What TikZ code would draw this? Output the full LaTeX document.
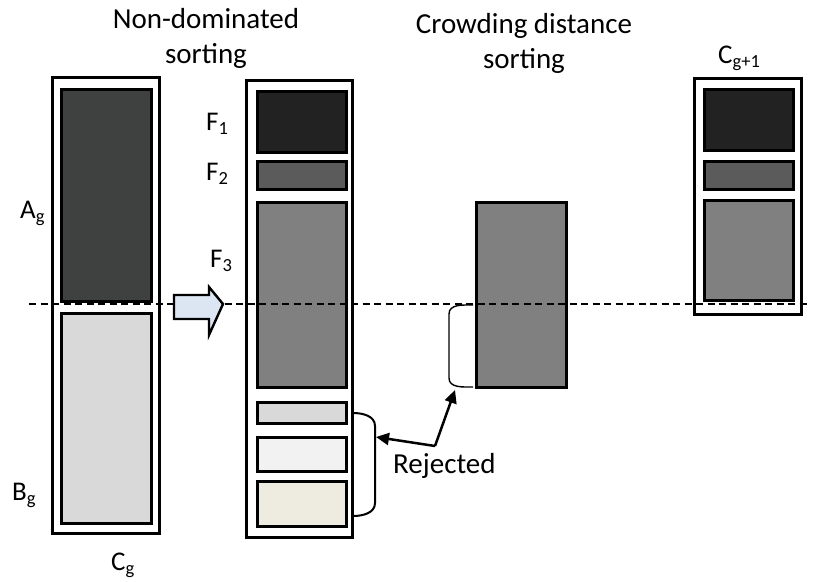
\documentclass[tikz,border=0pt]{standalone}
\usepackage{fontspec}
\setmainfont{Carlito}
\usetikzlibrary{arrows.meta}
\newcommand\lowsub[1]{\raisebox{-4pt}{\fontsize{18.5}{18.5}\selectfont #1}}
\begin{document}
\begin{tikzpicture}[x=1pt,y=-1pt,
  outerbox/.style={draw=black,line width=3pt,fill=white,inner sep=0pt},
  blockbox/.style={draw=black,line width=3pt,inner sep=0pt,minimum width=90pt},
  label/.style={inner sep=0pt,anchor=base west,font=\fontsize{27}{32}\selectfont},
  title/.style={inner sep=0pt,align=center,font=\fontsize{29}{35}\selectfont},
  pointer/.style={line width=2.5pt,-{Triangle[length=13pt,width=12pt]}},
  brace/.style={line width=2pt}]
\useasboundingbox (0,0) rectangle (813,581);

% current population C_g = A_g + B_g
\node[outerbox,minimum width=107pt,minimum height=456pt] (cg) at (105.5,305) {};
\node[blockbox,fill={rgb,255:red,63;green,65;blue,64},minimum height=212pt] (ag) at (106,195) {};
\node[blockbox,fill={rgb,255:red,217;green,217;blue,217},minimum height=210pt] (bg) at (106,418) {};

% sorted fronts
\node[outerbox,minimum width=106pt,minimum height=457pt] (sorted) at (299,308.5) {};
\node[blockbox,fill={rgb,255:red,34;green,34;blue,34},minimum width=89pt,minimum height=61pt] (f1) at (301.5,121.5) {};
\node[blockbox,fill={rgb,255:red,91;green,91;blue,91},minimum width=89pt,minimum height=28pt] (f2) at (301.5,175) {};
\node[blockbox,fill={rgb,255:red,128;green,128;blue,128},minimum width=89pt,minimum height=185pt] (f3) at (301.5,294.5) {};
\node[blockbox,fill={rgb,255:red,217;green,217;blue,217},minimum width=89pt,minimum height=21pt] (r1) at (301.5,412.5) {};
\node[blockbox,fill={rgb,255:red,242;green,242;blue,242},minimum width=89pt,minimum height=34pt] (r2) at (301.5,454) {};
\node[blockbox,fill={rgb,255:red,238;green,236;blue,225},minimum width=89pt,minimum height=45pt] (r3) at (301.5,503.5) {};

% front split by crowding distance
\node[blockbox,fill={rgb,255:red,128;green,128;blue,128},minimum height=185pt] (cd) at (521,294.5) {};

% next population C_{g+1}
\node[outerbox,minimum width=107pt,minimum height=236pt] (cnext) at (747.5,196) {};
\node[blockbox,fill={rgb,255:red,34;green,34;blue,34},minimum width=89pt,minimum height=61pt] (n1) at (748.5,119.5) {};
\node[blockbox,fill={rgb,255:red,91;green,91;blue,91},minimum width=89pt,minimum height=28pt] (n2) at (748.5,175) {};
\node[blockbox,fill={rgb,255:red,128;green,128;blue,128},minimum width=89pt,minimum height=100pt] (n3) at (748.5,250) {};

% population size cut
\coordinate (cutL) at (29,304);
\coordinate (cutR) at (810,304);
\draw[line width=2.5pt,dash pattern=on 7pt off 4.5pt] (cutL) -- (cutR);

% block arrow
\draw[line width=2.4pt,fill={rgb,255:red,220;green,230;blue,242},line join=miter]
  (174,295) -- (209,295) -- (209,287) -- (223,304) -- (209,335) -- (209,319) -- (174,319) -- cycle;

% brace around rejected fronts
\coordinate (rbTop) at (353,413);
\coordinate (rbBot) at (353,516);
\coordinate (rbTip) at (376,437);
\draw[brace] (rbTop) to[out=0,in=90] (375,426) -- (375,503) to[out=-90,in=0] (rbBot);

% brace on the crowding-distance front
\coordinate (cbTop) at (473,305);
\coordinate (cbBot) at (473,387);
\coordinate (cbTip) at (455,390);
\draw[line width=1.4pt] (cbTop) to[out=180,in=90] (449,314) -- (449,378) to[out=-90,in=180] (cbBot);

% rejected pointers
\coordinate (rj) at (435,446);
\draw[pointer] (rj) -- (rbTip);
\draw[pointer] (rj) -- (cbTip);

% labels
\node[label] (lag) at (20,218) {A\lowsub{g}};
\node[label] (lbg) at (12,500) {B\lowsub{g}};
\node[label] (lcg) at (111,570) {C\lowsub{g}};
\node[label] (lf1) at (206,130) {F\lowsub{1}};
\node[label] (lf2) at (206,180) {F\lowsub{2}};
\node[label] (lf3) at (210,267) {F\lowsub{3}};
\node[label] (lcn) at (718,63) {C\lowsub{g+1}};
\node[label,font=\fontsize{29}{35}\selectfont] (lrej) at (393,473) {Rejected};

\node[title,anchor=base] (tnd) at (206,63) {Non-dominated\\sorting};
\node[title,anchor=base] (tcd) at (524,68) {Crowding distance\\sorting};
\end{tikzpicture}
\end{document}
